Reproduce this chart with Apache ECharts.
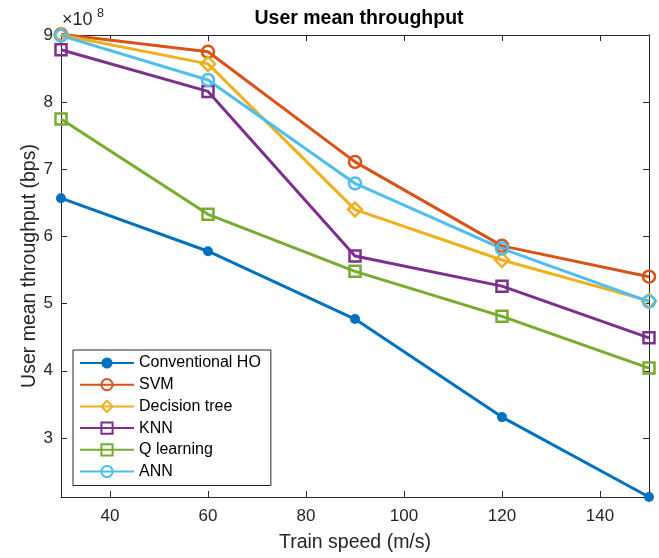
<!DOCTYPE html>
<html>
<head>
<meta charset="utf-8">
<script src="https://cdn.jsdelivr.net/npm/echarts@6/dist/echarts.min.js"></script>
<style>html,body{margin:0;padding:0;background:#fff}#c{width:659px;height:558px}</style>
</head>
<body>
<div id="c"></div>
<script>
var speeds = [30, 60, 90, 120, 150];
var conventionalHO = [6.57, 5.78, 4.77, 3.31, 2.12];
var svm = [9.01, 8.75, 7.11, 5.86, 5.40];
var decisionTree = [9.00, 8.57, 6.40, 5.65, 5.04];
var knn = [8.78, 8.16, 5.71, 5.26, 4.49];
var qLearning = [7.75, 6.33, 5.48, 4.81, 4.04];
var ann = [8.99, 8.33, 6.79, 5.82, 5.03];
var xTicks = [40, 60, 80, 100, 120, 140];
var yTicks = [3, 4, 5, 6, 7, 8, 9];

var FONT = '"Liberation Sans", Arial, Helvetica, sans-serif';
var AX = '#262626';

function pairs(arr) { return speeds.map(function (s, i) { return [s, arr[i]]; }); }

function mk(name, data, color, symbol, size, filled) {
  return {
    name: name, type: 'line', data: pairs(data), clip: false,
    xAxisIndex: 0, yAxisIndex: 0,
    symbol: symbol, symbolSize: size,
    lineStyle: { color: color, width: 3 },
    itemStyle: filled ? { color: color, borderColor: color, borderWidth: 0 }
                      : { color: 'rgba(255,255,255,0)', borderColor: color, borderWidth: 2.5 },
    emphasis: { disabled: true },
    animation: false
  };
}

var chart = echarts.init(document.getElementById('c'), null, { renderer: 'canvas' });
chart.setOption({
  animation: false,
  backgroundColor: '#fff',
  title: {
    text: 'User mean throughput', left: 354, top: 4, textAlign: 'center',
    textStyle: { fontFamily: FONT, fontSize: 19.5, fontWeight: 'bold', color: '#000' }
  },
  grid: { left: 61, right: 10, top: 35, bottom: 60 },
  legend: {
    orient: 'vertical', left: 73, top: 350, width: 194,
    backgroundColor: '#fff', borderColor: AX, borderWidth: 1,
    padding: [5, 10, 6, 6], itemGap: 5.7, itemWidth: 54, itemHeight: 14,
    textStyle: { fontFamily: FONT, fontSize: 16, color: '#000', lineHeight: 16 },
    data: ['Conventional HO', 'SVM', 'Decision tree', 'KNN', 'Q learning', 'ANN']
  },
  xAxis: [{
    type: 'value', min: 30, max: 150, position: 'bottom',
    name: 'Train speed (m/s)', nameLocation: 'middle', nameGap: 36,
    nameTextStyle: { fontFamily: FONT, fontSize: 19.5, color: AX },
    axisLine: { show: true, lineStyle: { color: AX, width: 1 } },
    axisTick: { show: true, inside: true, length: 6, customValues: xTicks, lineStyle: { color: AX } },
    axisLabel: { fontFamily: FONT, fontSize: 17, color: AX, margin: 11, customValues: xTicks },
    splitLine: { show: false }
  }, {
    type: 'value', min: 30, max: 150, position: 'top',
    axisLine: { show: true, lineStyle: { color: AX, width: 1 } },
    axisTick: { show: true, inside: true, length: 6, customValues: xTicks, lineStyle: { color: AX } },
    axisLabel: { show: false }, splitLine: { show: false }
  }],
  yAxis: [{
    type: 'value', min: 2.12, max: 9, position: 'left',
    name: 'User mean throughput (bps)', nameLocation: 'middle', nameGap: 21, nameMoveOverlap: false,
    nameTextStyle: { fontFamily: FONT, fontSize: 19.5, color: AX },
    axisLine: { show: true, lineStyle: { color: AX, width: 1 } },
    axisTick: { show: true, inside: true, length: 6, customValues: yTicks, lineStyle: { color: AX } },
    axisLabel: { fontFamily: FONT, fontSize: 17, color: AX, margin: 8, customValues: yTicks },
    splitLine: { show: false }
  }, {
    type: 'value', min: 2.12, max: 9, position: 'right',
    axisLine: { show: true, lineStyle: { color: AX, width: 1 } },
    axisTick: { show: true, inside: true, length: 6, customValues: yTicks, lineStyle: { color: AX } },
    axisLabel: { show: false }, splitLine: { show: false }
  }],
  graphic: [
    { type: 'text', left: 62, top: 11, style: { text: '\u00d710', fontFamily: FONT, fontSize: 18, fill: AX } },
    { type: 'text', left: 97, top: 7, style: { text: '8', fontFamily: FONT, fontSize: 12.5, fill: AX } }
  ],
  series: [
    mk('Conventional HO', conventionalHO, '#0072BD', 'circle', 10, true),
    mk('SVM', svm, '#D95319', 'circle', 12, false),
    mk('Decision tree', decisionTree, '#EDB120', 'diamond', 14, false),
    mk('KNN', knn, '#7E2F8E', 'rect', 11, false),
    mk('Q learning', qLearning, '#77AC30', 'rect', 11, false),
    mk('ANN', ann, '#4DBEEE', 'circle', 12, false)
  ]
});
</script>
</body>
</html>
